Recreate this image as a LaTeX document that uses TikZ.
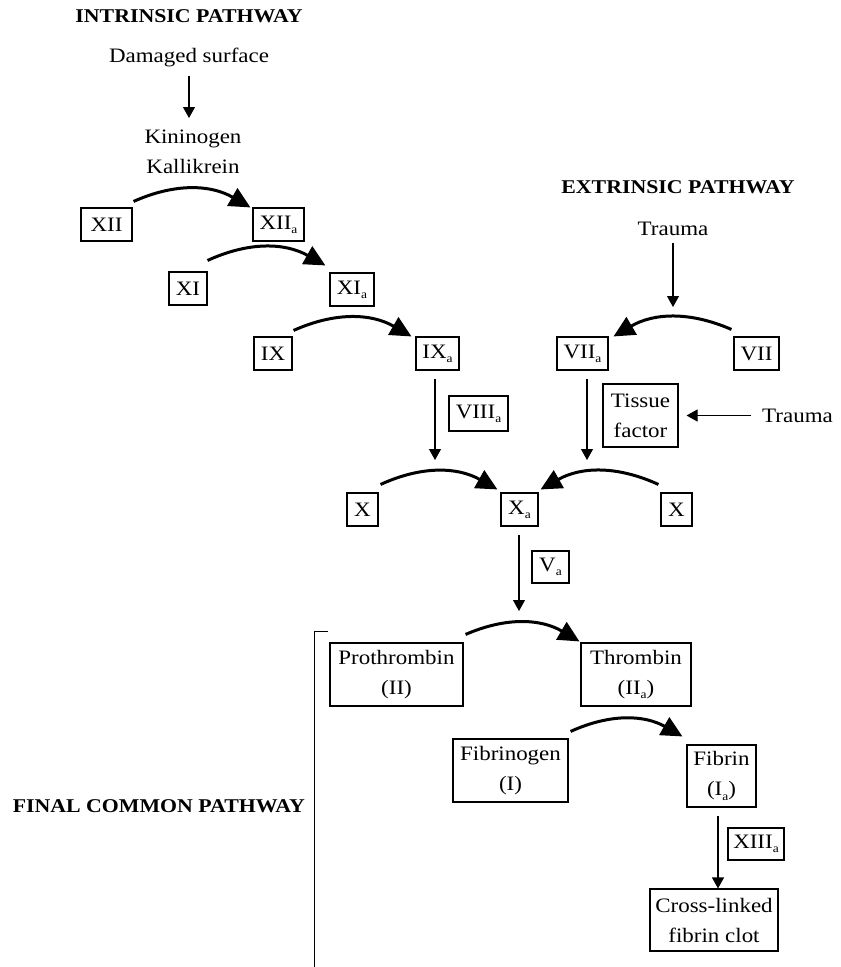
\documentclass[tikz,border=0pt]{standalone}
\usepackage{fontspec}
\setmainfont{Liberation Serif}[FakeStretch=1.12]
\usetikzlibrary{arrows.meta}
\tikzset{
  bx/.style={draw, line width=1.1pt, inner sep=0pt, align=center},
  lbl/.style={inner sep=0pt, align=center},
  ttl/.style={inner sep=0pt, font=\fontsize{19.5pt}{30pt}\selectfont\bfseries},
  conv/.style={line width=3pt, -{Triangle[length=21pt,width=20pt]}},
  varr/.style={line width=1.1pt, -{Triangle[length=11pt,width=12pt]}},
}
\newcommand{\sbs}[1]{\raisebox{-0.45ex}{\fontsize{12pt}{12pt}\selectfont #1}}
\begin{document}
\begin{tikzpicture}[x=1pt,y=-1pt,font=\fontsize{20.5pt}{30pt}\selectfont]
\useasboundingbox (0,0) rectangle (841,967);
% titles
\node[ttl, anchor=base] (tI) at (189,22) {INTRINSIC PATHWAY};
\node[ttl, anchor=base] (tE) at (678,193) {EXTRINSIC PATHWAY};
\node[ttl, anchor=base east] (tF) at (305,812) {FINAL COMMON PATHWAY};
% intrinsic labels
\node[lbl, anchor=base] (dmg) at (189,62) {Damaged surface};
\node[lbl, anchor=base] (kin) at (193,143) {Kininogen};
\node[lbl, anchor=base] (kal) at (193,173) {Kallikrein};
\node[lbl, anchor=base] (tr1) at (673,235) {Trauma};
\node[lbl, anchor=base west] (tr2) at (762,422) {Trauma};
% boxes
\node[bx, minimum width=51pt, minimum height=33pt] (XII) at (106.5,224.5) {XII};
\node[bx, minimum width=51pt, minimum height=33pt] (XIIa) at (278.5,224.5) {XII\sbs{a}};
\node[bx, minimum width=38pt, minimum height=33pt] (XI) at (188,288.5) {XI};
\node[bx, minimum width=44pt, minimum height=33pt] (XIa) at (352,289.5) {XI\sbs{a}};
\node[bx, minimum width=38pt, minimum height=33pt] (IX) at (273,353.5) {IX};
\node[bx, minimum width=43pt, minimum height=33pt] (IXa) at (437.5,353.5) {IX\sbs{a}};
\node[bx, minimum width=51pt, minimum height=33pt] (VIIa) at (582.5,353.5) {VII\sbs{a}};
\node[bx, minimum width=45pt, minimum height=33pt] (VII) at (756.5,353.5) {VII};
\node[bx, minimum width=59pt, minimum height=35pt] (VIIIa) at (478.5,413.5) {VIII\sbs{a}};
\node[bx, minimum width=75pt, minimum height=63pt] (TF) at (640.5,415.5) {Tissue\\factor};
\node[bx, minimum width=31pt, minimum height=33pt] (Xl) at (362.5,509.5) {X};
\node[bx, minimum width=37pt, minimum height=33pt] (Xa) at (519.5,509.5) {X\sbs{a}};
\node[bx, minimum width=31pt, minimum height=33pt] (Xr) at (676.5,509.5) {X};
\node[bx, minimum width=37pt, minimum height=32pt] (Va) at (550.5,567) {V\sbs{a}};
\node[bx, minimum width=133pt, minimum height=63pt] (Pro) at (396.5,674.5) {Prothrombin\\(II)};
\node[bx, minimum width=110pt, minimum height=63pt] (Thr) at (636,674.5) {Thrombin\\(II\sbs{a})};
\node[bx, minimum width=115pt, minimum height=63pt] (Fbg) at (510.5,770.5) {Fibrinogen\\(I)};
\node[bx, minimum width=69pt, minimum height=62pt] (Fbn) at (721.5,776) {Fibrin\\(I\sbs{a})};
\node[bx, minimum width=56pt, minimum height=32pt] (XIIIa) at (756,844) {XIII\sbs{a}};
\node[bx, minimum width=128pt, minimum height=62pt] (Clot) at (714,920) {Cross-linked\\fibrin clot};
% free ends of vertical arrows
\coordinate (c1) at (435,460);
\coordinate (c2) at (587,460);
\coordinate (c3) at (519,611);
\coordinate (c4) at (673,307);
\coordinate (c5) at (189,118);
\coordinate (c6) at (718,880);
% straight arrows
\draw[varr] (dmg.south) ++(0,-9pt) -- (c5);
\draw[varr] (tr1.south) ++(0,-8pt) -- (c4);
\draw[varr] (IXa.south -| c1) ++(0,-8pt) -- (c1);
\draw[varr] (VIIa.south -| c2) ++(0,-8pt) -- (c2);
\draw[varr] (Xa.south -| c3) ++(0,-8pt) -- (c3);
\draw[varr] (Fbn.south -| c6) ++(0,-8pt) -- (Clot.north -| c6) ;
\draw[varr] ([xshift=-11pt]tr2.west |- TF.east) -- ([xshift=8pt]TF.east);
% conversion arcs
\draw[conv] ([shift={(1pt,6pt)}]XII.north east) to[bend left=27] ([shift={(-2pt,0pt)}]XIIa.north west);
\draw[conv] ([shift={(0pt,11pt)}]XI.north east) to[bend left=27] ([shift={(-4pt,7pt)}]XIa.north west);
\draw[conv] ([shift={(1pt,6pt)}]IX.north east) to[bend left=27] ([shift={(-4pt,0pt)}]IXa.north west);
\draw[conv] ([shift={(-2pt,7pt)}]VII.north west) to[bend right=27] ([shift={(5pt,0pt)}]VIIa.north east);
\draw[conv] ([shift={(2pt,8pt)}]Xl.north east) to[bend left=27] ([shift={(-3pt,3pt)}]Xa.north west);
\draw[conv] ([shift={(-2pt,8pt)}]Xr.north west) to[bend right=27] ([shift={(2pt,3pt)}]Xa.north east);
\draw[conv] ([shift={(2pt,8pt)}]Pro.north east) to[bend left=27] ([shift={(-1pt,1pt)}]Thr.north west);
\draw[conv] ([shift={(2pt,7pt)}]Fbg.north east) to[bend left=27] ([shift={(-4pt,8pt)}]Fbn.north west);
% bracket of the final common pathway
\draw[line width=1pt] (328,631) -- (314,631) -- (314,967);
\end{tikzpicture}
\end{document}
